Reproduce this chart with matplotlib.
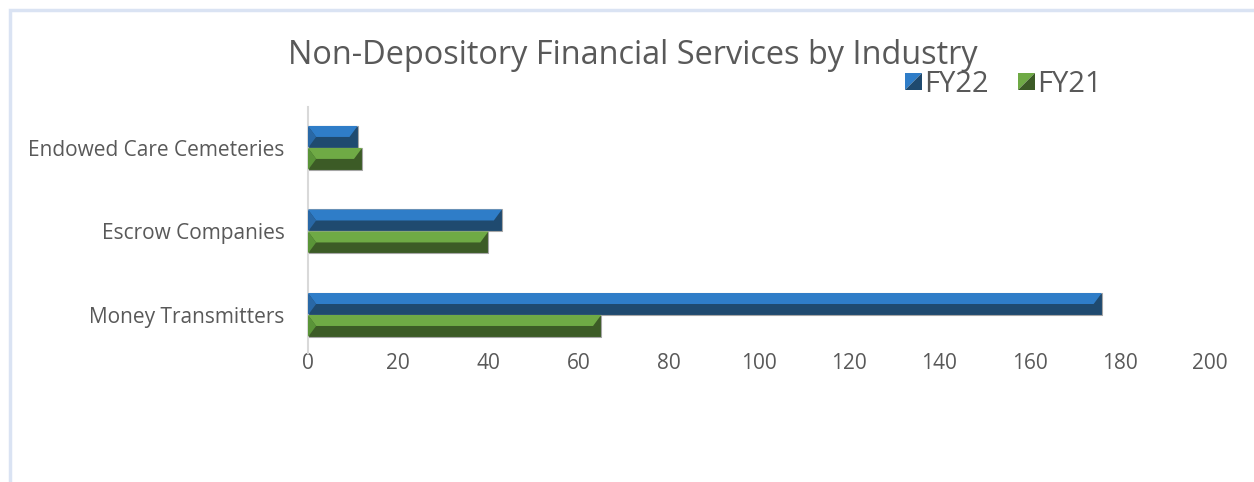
import matplotlib.pyplot as plt
from matplotlib.patches import Polygon, Rectangle
from matplotlib.legend_handler import HandlerBase

categories = ['Money Transmitters', 'Escrow Companies', 'Endowed Care Cemeteries']
fy22 = [176, 43, 11]
fy21 = [65, 40, 12]
x_ticks = [0, 20, 40, 60, 80, 100, 120, 140, 160, 180, 200]

# colours for (light top, dark bottom, left bevel)
blue = ('#2F7DC8', '#1F4A6F', '#2968A6')
green = ('#6FAA45', '#3C5B26', '#5A9438')

plt.rcParams['font.family'] = ['Open Sans', 'DejaVu Sans']
gray = '#595959'


def bevel_bar(ax, y, h, val, cols, bev=1.8):
    yb, yt, ym = y - h / 2, y + h / 2, y
    ax.barh(y, val, height=h, color=cols[1], edgecolor='#A6A6A6', linewidth=0.8, zorder=2)
    ax.add_patch(Polygon([(0, yt), (val, yt), (val - bev, ym), (bev, ym)],
                         closed=True, color=cols[0], lw=0, zorder=3))
    ax.add_patch(Polygon([(0, yt), (bev, ym), (0, yb)],
                         closed=True, color=cols[2], lw=0, zorder=3))


class BevelHandler(HandlerBase):
    def create_artists(self, legend, orig, xd, yd, w, h, fs, trans):
        cols = orig.cols
        s = h * 0.85
        x0, y0 = xd + (w - s) / 2, yd + (h - s) / 2
        p1 = Polygon([(x0, y0), (x0, y0 + s), (x0 + s, y0 + s)], closed=True,
                     color=cols[0], lw=0, transform=trans)
        p2 = Polygon([(x0, y0), (x0 + s, y0), (x0 + s, y0 + s)], closed=True,
                     color=cols[1], lw=0, transform=trans)
        return [p1, p2]


fig = plt.figure(figsize=(12.54, 4.82), dpi=100)
ax = fig.add_axes([308 / 1254, (482 - 353) / 482, 902 / 1254, 246 / 482])

h = 0.263
for i in range(len(categories)):
    bevel_bar(ax, i + h / 2, h, fy22[i], blue)
    bevel_bar(ax, i - h / 2, h, fy21[i], green)

ax.set_xlim(0, 200)
ax.set_ylim(-0.455, 2.49)
ax.set_xticks(x_ticks)
ax.set_xticklabels([str(t) for t in x_ticks])
ax.set_yticks(range(len(categories)))
ax.set_yticklabels(categories)
ax.tick_params(axis='both', length=0, labelsize=15, colors=gray)
ax.tick_params(axis='x', pad=0)
ax.tick_params(axis='y', pad=17)
for s in ['top', 'right', 'bottom']:
    ax.spines[s].set_visible(False)
ax.spines['left'].set_color('#D9D9D9')
ax.spines['left'].set_linewidth(1.5)

fig.text(633 / 1254, 1 - 55 / 482, 'Non-Depository Financial Services by Industry',
         ha='center', va='center', fontsize=23.4, color=gray)

h22 = Rectangle((0, 0), 1, 1)
h22.cols = blue
h21 = Rectangle((0, 0), 1, 1)
h21.cols = green
fig.legend([h22, h21], ['FY22', 'FY21'], loc='center left',
           bbox_to_anchor=(891 / 1254, 1 - 84 / 482), ncol=2, frameon=False,
           fontsize=21, labelcolor=gray, handler_map={Rectangle: BevelHandler()},
           handlelength=0.75, handletextpad=0.0, columnspacing=0.9, borderaxespad=0)

fig.patches.append(Rectangle((10 / 1254, -0.1), 2, 1.1 - 9.5 / 482, transform=fig.transFigure,
                             fill=False, edgecolor='#DAE3F3', linewidth=2.5))

fig.savefig('out.png', dpi=100)
